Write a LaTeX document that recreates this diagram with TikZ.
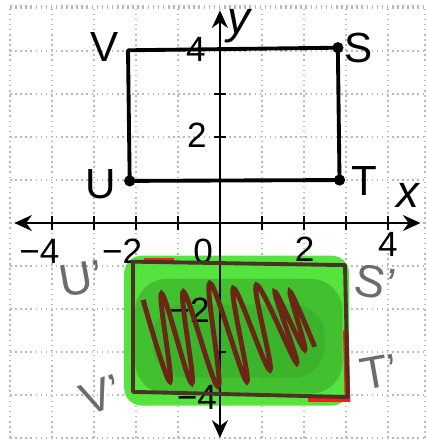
\documentclass[tikz,border=0pt]{standalone}
\usepackage{fontspec}
\setmainfont{Liberation Sans}
\usetikzlibrary{arrows.meta}
\definecolor{hlgreen}{HTML}{45E22C}
\definecolor{deepgreen}{HTML}{2C9420}
\definecolor{scrawl}{HTML}{6A2616}
\definecolor{edgebrown}{HTML}{4A3226}
\definecolor{pencil}{HTML}{6C6C6C}
\definecolor{redmark}{HTML}{F0201A}
\begin{document}
\begin{tikzpicture}[x=4.2mm,y=4.3mm,
  gridline/.style={gray!55,densely dotted,line width=0.45pt},
  axisline/.style={line width=0.8pt,{Stealth[length=5pt,width=4.5pt]}-{Stealth[length=5pt,width=4.5pt]}},
  tickmark/.style={line width=0.7pt},
  ticklbl/.style={font=\fontsize{10}{11}\selectfont,inner sep=0pt},
  vertlbl/.style={font=\fontsize{12}{13}\selectfont,inner sep=0pt},
  imglbl/.style={font=\fontsize{13}{14}\selectfont,text=pencil,inner sep=0pt}]
\useasboundingbox (-5.24,-5.12) rectangle (4.93,5.19);
\foreach \gx in {-5,...,4} \draw[gridline] (\gx,-5) -- (\gx,5.05);
\draw[gridline] (4.88,-5) -- (4.88,5.05);
\foreach \gy in {-5,...,5} \draw[gridline] (-5,\gy) -- (4.88,\gy);
\draw[gridline] (-5,5.05) -- (4.88,5.05);
\fill[hlgreen,opacity=0.92,rounded corners=5pt] (-2.28,-0.76) rectangle (3.08,-4.25);
\fill[deepgreen,opacity=0.45,rounded corners=9pt] (-2.02,-1.3) rectangle (2.92,-3.97);
\fill[deepgreen,opacity=0.25,rounded corners=9pt] (-1.6,-1.9) rectangle (2.5,-3.6);
\draw[redmark,line width=1.6pt] (-1.8,-0.87) -- (-1.1,-0.87);
\draw[redmark,line width=1.6pt] (2.1,-4.1) -- (3.04,-4.1) -- (3.0,-2.5);
\coordinate (xl) at (-4.9,0);
\coordinate (xr) at (4.78,0);
\coordinate (yb) at (0,-5.0);
\coordinate (yt) at (0,4.95);
\draw[axisline] (xl) -- (xr);
\draw[axisline] (yb) -- (yt);
\foreach \tx in {-4,-3,-2,-1,1,2,3,4} \draw[tickmark] (\tx,-0.16) -- (\tx,0.16);
\foreach \ty in {3,2,-3} \draw[tickmark] (-0.15,\ty) -- (0.15,\ty);
\node[ticklbl] (xm4) at (-4.3,-0.66) {−4};
\node[ticklbl] (xm2) at (-2.33,-0.66) {−2};
\node[ticklbl] (x0) at (-0.4,-0.66) {0};
\node[ticklbl] (x2) at (2.02,-0.62) {2};
\node[ticklbl] (x4) at (4.0,-0.5) {4};
\node[ticklbl] (y4) at (-0.57,4.05) {4};
\node[ticklbl] (y2) at (-0.55,2.05) {2};
\node[ticklbl] (ym2) at (-0.72,-2.02) {−2};
\node[ticklbl] (ym4) at (-0.55,-4.05) {−4};
\node[vertlbl,font=\fontsize{13}{14}\itshape] (xlbl) at (4.48,0.63) {x};
\node[vertlbl,font=\fontsize{13}{14}\itshape] (ylbl) at (0.45,4.58) {y};
\coordinate (U) at (-2.15,0.98);
\coordinate (T) at (2.85,1.0);
\coordinate (S) at (2.81,4.08);
\coordinate (V) at (-2.19,4.02);
\draw[line width=1.1pt,line join=round] (U) -- (T) -- (S) -- (V) -- cycle;
\foreach \pt in {U,T,S} \fill (\pt) circle (1.6pt);
\node[vertlbl] (Ulbl) at (-2.83,0.9) {U};
\node[vertlbl] (Tlbl) at (3.45,0.98) {T};
\node[vertlbl] (Slbl) at (3.31,4.07) {S};
\node[vertlbl] (Vlbl) at (-2.74,4.09) {V};
\coordinate (U1) at (-2.07,-0.9);
\coordinate (S1) at (2.98,-0.98);
\coordinate (T1) at (3.05,-4.05);
\coordinate (V1) at (-2.07,-3.93);
\draw[edgebrown,line width=1.1pt,line join=round] (U1) -- (S1) -- (T1) -- (V1) -- cycle;
\draw[scrawl,line width=1.4pt] plot[smooth,tension=0.7] coordinates {
  (-1.83,-1.79) (-1.19,-3.69) (-1.39,-1.64) (-0.67,-3.73) (-0.87,-1.60) (-0.04,-3.81)
  (-0.24,-1.40) (0.64,-3.69) (0.32,-1.52) (1.19,-3.42) (0.87,-1.44) (1.83,-3.26)
  (1.31,-1.60) (2.02,-2.95) (1.67,-1.60) (2.26,-2.88)};
\node[imglbl,rotate=10] (U1lbl) at (-3.3,-1.3) {U'};
\node[imglbl,rotate=20] (V1lbl) at (-2.83,-4.0) {V'};
\node[imglbl,rotate=-10] (S1lbl) at (3.7,-1.38) {S'};
\node[imglbl,rotate=10] (T1lbl) at (3.8,-3.47) {T'};
\end{tikzpicture}
\end{document}
